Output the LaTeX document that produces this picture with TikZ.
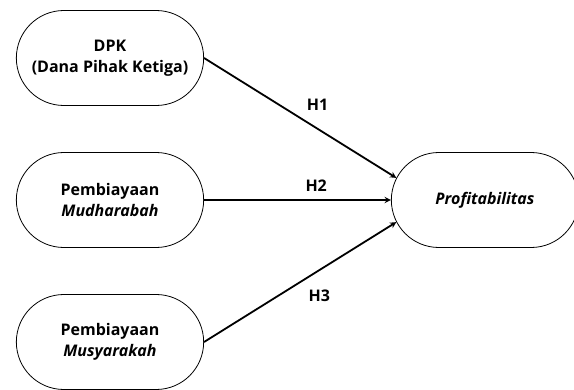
\documentclass[tikz,border=0pt]{standalone}
\usepackage{fontspec}
\setmainfont{Open Sans}
\usetikzlibrary{shapes.misc}

\begin{document}
\begin{tikzpicture}[x=1pt,y=-1pt,
	var/.style={rounded rectangle,draw,line width=0.8pt,minimum width=194pt,minimum height=95pt,align=center,font=\bfseries\fontsize{16}{21}\selectfont},
	hlabel/.style={font=\bfseries\fontsize{16}{18}\selectfont}]
	\useasboundingbox (0,0) rectangle (574,389);
	\clip (0,0) rectangle (574,389);
	\node[var] (dpk) at (110,58) {DPK\\(Dana Pihak Ketiga)};
	\node[var] (mud) at (110,200) {Pembiayaan\\\textit{Mudharabah}};
	\node[var] (mus) at (110,342) {Pembiayaan\\\textit{Musyarakah}};
	\node[var] (prof) at (485,200) {\textit{Profitabilitas}};
	\path[-stealth,line width=1.8pt]
	(dpk.east) edge node [hlabel,pos=0.59,yshift=24pt] {H1} (prof.166)
	(mud.east) edge node [hlabel,pos=0.6,yshift=14pt] {H2} (prof.west)
	(mus.east) edge node [hlabel,pos=0.6,yshift=-26pt] {H3} (prof.194);
\end{tikzpicture}
\end{document}
